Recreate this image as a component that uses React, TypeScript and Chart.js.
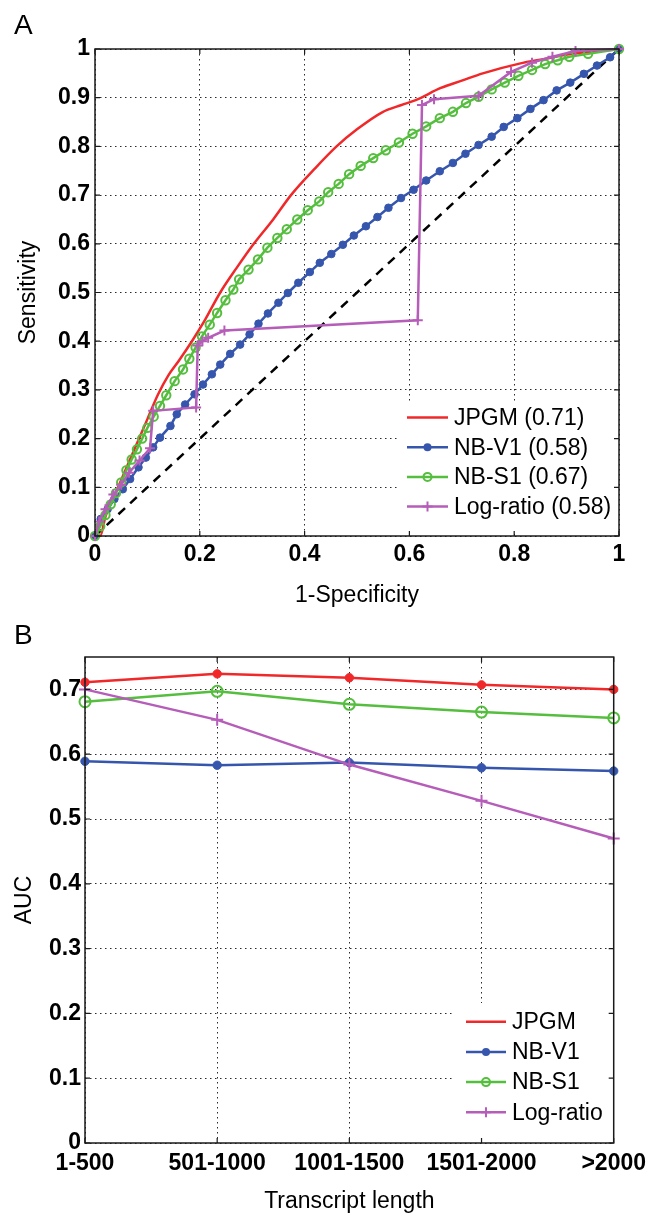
import React, { useEffect, useRef } from 'react';
import { Chart, registerables } from 'chart.js';

Chart.register(...registerables);

const FONT = "'Liberation Sans', Arial, Helvetica, sans-serif";
const RED = '#f0282a';
const BLUE = '#3656ad';
const GREEN = '#55be3e';
const PURPLE = '#b55db8';

// ---------- Panel A: ROC curves ----------
const rocXTicks = [0, 0.2, 0.4, 0.6, 0.8, 1];
const rocXTickLabels = ['0', '0.2', '0.4', '0.6', '0.8', '1'];
const rocYTicks = [0, 0.1, 0.2, 0.3, 0.4, 0.5, 0.6, 0.7, 0.8, 0.9, 1];
const rocYTickLabels = ['0', '0.1', '0.2', '0.3', '0.4', '0.5', '0.6', '0.7', '0.8', '0.9', '1'];

const jpgmRocX = [0, 0.01, 0.02, 0.04, 0.06, 0.08, 0.1, 0.12, 0.14, 0.16, 0.185, 0.208, 0.239, 0.27, 0.303, 0.34, 0.374, 0.42, 0.461, 0.5, 0.548, 0.585, 0.612, 0.66, 0.7, 0.74, 0.81, 0.86, 0.91, 1];
const jpgmRocY = [0, 0, 0.04, 0.09, 0.14, 0.19, 0.24, 0.29, 0.33, 0.36, 0.4, 0.44, 0.5, 0.55, 0.6, 0.65, 0.7, 0.755, 0.8, 0.835, 0.87, 0.885, 0.895, 0.92, 0.935, 0.95, 0.97, 0.98, 0.99, 1];

const nbv1RocX = [0, 0.011, 0.024, 0.037, 0.053, 0.067, 0.083, 0.097, 0.111, 0.124, 0.144, 0.156, 0.172, 0.19, 0.206, 0.223, 0.239, 0.258, 0.277, 0.295, 0.312, 0.33, 0.35, 0.368, 0.388, 0.41, 0.429, 0.451, 0.473, 0.494, 0.517, 0.539, 0.56, 0.584, 0.608, 0.632, 0.658, 0.683, 0.707, 0.732, 0.757, 0.78, 0.806, 0.831, 0.856, 0.881, 0.907, 0.933, 0.958, 0.983, 1];
const nbv1RocY = [0, 0.035, 0.055, 0.076, 0.096, 0.117, 0.141, 0.161, 0.182, 0.202, 0.226, 0.25, 0.27, 0.291, 0.311, 0.332, 0.352, 0.374, 0.393, 0.414, 0.436, 0.457, 0.479, 0.499, 0.52, 0.542, 0.561, 0.579, 0.598, 0.617, 0.636, 0.655, 0.674, 0.694, 0.711, 0.73, 0.749, 0.766, 0.785, 0.803, 0.82, 0.84, 0.858, 0.877, 0.895, 0.915, 0.931, 0.949, 0.966, 0.983, 1];

const nbs1RocX = [0, 0.01, 0.02, 0.03, 0.04, 0.05, 0.06, 0.07, 0.08, 0.09, 0.1, 0.112, 0.124, 0.136, 0.152, 0.168, 0.18, 0.192, 0.204, 0.219, 0.233, 0.249, 0.264, 0.275, 0.293, 0.311, 0.329, 0.348, 0.366, 0.386, 0.406, 0.428, 0.445, 0.465, 0.485, 0.507, 0.531, 0.555, 0.58, 0.606, 0.632, 0.658, 0.683, 0.708, 0.732, 0.757, 0.782, 0.808, 0.834, 0.859, 0.883, 0.905, 0.941, 1];
const nbs1RocY = [0, 0.02, 0.043, 0.065, 0.088, 0.11, 0.135, 0.157, 0.178, 0.2, 0.222, 0.245, 0.267, 0.289, 0.318, 0.342, 0.364, 0.387, 0.41, 0.434, 0.458, 0.484, 0.506, 0.527, 0.547, 0.568, 0.592, 0.612, 0.63, 0.65, 0.669, 0.687, 0.706, 0.723, 0.743, 0.76, 0.776, 0.792, 0.808, 0.826, 0.841, 0.858, 0.871, 0.889, 0.902, 0.917, 0.931, 0.945, 0.957, 0.969, 0.977, 0.984, 0.99, 1];

const logRocX = [0, 0.008, 0.02, 0.035, 0.05, 0.065, 0.085, 0.105, 0.111, 0.193, 0.196, 0.205, 0.216, 0.247, 0.616, 0.624, 0.647, 0.732, 0.794, 0.834, 0.873, 0.917, 1];
const logRocY = [0, 0.03, 0.055, 0.085, 0.105, 0.13, 0.155, 0.18, 0.257, 0.264, 0.391, 0.4, 0.407, 0.422, 0.443, 0.885, 0.897, 0.904, 0.953, 0.972, 0.984, 0.996, 1];

const chanceX = [0, 1];
const chanceY = [0, 1];

const rocLegendLabels = ['JPGM (0.71)', 'NB-V1 (0.58)', 'NB-S1 (0.67)', 'Log-ratio (0.58)'];

// ---------- Panel B: AUC vs transcript length ----------
const lengthCategories = ['1-500', '501-1000', '1001-1500', '1501-2000', '>2000'];
const aucJpgm = [0.711, 0.724, 0.718, 0.707, 0.7];
const aucNbv1 = [0.589, 0.583, 0.587, 0.579, 0.574];
const aucNbs1 = [0.681, 0.697, 0.677, 0.665, 0.656];
const aucLogRatio = [0.7, 0.653, 0.584, 0.528, 0.47];
const aucYTicks = [0, 0.1, 0.2, 0.3, 0.4, 0.5, 0.6, 0.7];
const aucYTickLabels = ['0', '0.1', '0.2', '0.3', '0.4', '0.5', '0.6', '0.7'];
const aucLegendLabels = ['JPGM', 'NB-V1', 'NB-S1', 'Log-ratio'];

const legendColors = [RED, BLUE, GREEN, PURPLE];
const legendMarkers = ['none', 'dot', 'ring', 'plus'];

const pts = (xs: number[], ys: number[]) => xs.map((x, i) => ({ x, y: ys[i] }));

function drawMarker(ctx: CanvasRenderingContext2D, kind: string, x: number, y: number, color: string) {
  ctx.save();
  ctx.strokeStyle = color;
  ctx.fillStyle = color;
  ctx.setLineDash([]);
  if (kind === 'dot') {
    ctx.beginPath();
    ctx.arc(x, y, 4, 0, Math.PI * 2);
    ctx.fill();
  } else if (kind === 'ring') {
    ctx.lineWidth = 2;
    ctx.beginPath();
    ctx.arc(x, y, 4, 0, Math.PI * 2);
    ctx.stroke();
  } else if (kind === 'plus') {
    ctx.lineWidth = 2;
    ctx.beginPath();
    ctx.moveTo(x - 5, y);
    ctx.lineTo(x + 5, y);
    ctx.moveTo(x, y - 5);
    ctx.lineTo(x, y + 5);
    ctx.stroke();
  }
  ctx.restore();
}

type LegendCfg = {
  box: { x: number; y: number; w: number; h: number };
  lineX1: number;
  lineX2: number;
  textX: number;
  firstRowY: number;
  rowGap: number;
  labels: string[];
};

function makeOverlayPlugin(cfg: LegendCfg) {
  return {
    id: 'overlay',
    afterDatasetsDraw(chart: any) {
      const ctx: CanvasRenderingContext2D = chart.ctx;
      const { left, right, top, bottom } = chart.chartArea;
      ctx.save();
      // legend inside the axes
      ctx.fillStyle = '#ffffff';
      ctx.fillRect(cfg.box.x, cfg.box.y, cfg.box.w, cfg.box.h);
      ctx.font = `23px ${FONT}`;
      ctx.textAlign = 'left';
      ctx.textBaseline = 'middle';
      cfg.labels.forEach((label, i) => {
        const y = cfg.firstRowY + i * cfg.rowGap;
        ctx.strokeStyle = legendColors[i];
        ctx.lineWidth = 2.5;
        ctx.setLineDash([]);
        ctx.beginPath();
        ctx.moveTo(cfg.lineX1, y);
        ctx.lineTo(cfg.lineX2, y);
        ctx.stroke();
        drawMarker(ctx, legendMarkers[i], (cfg.lineX1 + cfg.lineX2) / 2, y, legendColors[i]);
        ctx.fillStyle = '#000';
        ctx.fillText(label, cfg.textX, y + 1);
      });
      // axes box with inward ticks
      ctx.strokeStyle = '#1a1a1a';
      ctx.lineWidth = 1.5;
      ctx.setLineDash([]);
      ctx.strokeRect(left, top, right - left, bottom - top);
      ctx.lineWidth = 1.2;
      ctx.beginPath();
      const xs = chart.scales.x;
      const ys = chart.scales.y;
      xs.ticks.forEach((_t: any, i: number) => {
        const px = xs.getPixelForTick(i);
        ctx.moveTo(px, bottom);
        ctx.lineTo(px, bottom - 5);
        ctx.moveTo(px, top);
        ctx.lineTo(px, top + 5);
      });
      ys.ticks.forEach((_t: any, i: number) => {
        const py = ys.getPixelForTick(i);
        ctx.moveTo(left, py);
        ctx.lineTo(left + 5, py);
        ctx.moveTo(right, py);
        ctx.lineTo(right - 5, py);
      });
      ctx.stroke();
      ctx.restore();
    },
  };
}

const gridStyle = { color: '#2a2a2a', lineWidth: 1, drawTicks: false };
const borderStyle = { display: false, dash: [1.5, 3.5] };
const tickFont = { family: FONT, size: 23, weight: 'bold' as const };
const titleFont = { family: FONT, size: 23 };

export default function App() {
  const refA = useRef<HTMLCanvasElement>(null);
  const refB = useRef<HTMLCanvasElement>(null);

  useEffect(() => {
    const chartA = new Chart(refA.current as HTMLCanvasElement, {
      type: 'scatter',
      data: {
        datasets: [
          {
            label: rocLegendLabels[3], data: pts(logRocX, logRocY), showLine: true,
            borderColor: PURPLE, backgroundColor: PURPLE, borderWidth: 2.5,
            pointStyle: 'cross', pointRadius: 5, pointBorderWidth: 2, pointBorderColor: PURPLE,
            order: 0, clip: false,
          },
          {
            label: rocLegendLabels[2], data: pts(nbs1RocX, nbs1RocY), showLine: true,
            borderColor: GREEN, backgroundColor: 'rgba(0,0,0,0)', borderWidth: 2.5,
            pointStyle: 'circle', pointRadius: 4.2, pointBorderWidth: 2, pointBorderColor: GREEN,
            pointBackgroundColor: 'rgba(0,0,0,0)', order: 1, clip: false,
          },
          {
            label: rocLegendLabels[1], data: pts(nbv1RocX, nbv1RocY), showLine: true,
            borderColor: BLUE, backgroundColor: BLUE, borderWidth: 2.5,
            pointStyle: 'circle', pointRadius: 3.8, pointBorderWidth: 1, pointBorderColor: BLUE,
            pointBackgroundColor: BLUE, order: 2, clip: false,
          },
          {
            label: rocLegendLabels[0], data: pts(jpgmRocX, jpgmRocY), showLine: true,
            borderColor: RED, backgroundColor: RED, borderWidth: 2.5, pointRadius: 0,
            tension: 0.3, cubicInterpolationMode: 'monotone', order: 3, clip: false,
          },
          {
            label: 'chance', data: pts(chanceX, chanceY), showLine: true,
            borderColor: '#000', borderWidth: 2.5, borderDash: [9, 7], pointRadius: 0, order: 4,
          },
        ] as any,
      },
      options: {
        responsive: false,
        animation: false,
        devicePixelRatio: 1,
        layout: { padding: { top: 49, right: 34, bottom: 0, left: 0 } },
        plugins: { legend: { display: false }, tooltip: { enabled: false } },
        scales: {
          x: {
            type: 'linear', min: 0, max: 1,
            afterBuildTicks: (s: any) => { s.ticks = rocXTicks.map((v) => ({ value: v })); },
            afterFit: (s: any) => { s.height = 79; },
            ticks: { callback: (_v: any, i: number) => rocXTickLabels[i], font: tickFont, color: '#000', padding: 5, maxRotation: 0, autoSkip: false },
            grid: gridStyle, border: borderStyle,
            title: { display: true, text: '1-Specificity', font: titleFont, color: '#000', padding: { top: 0, bottom: 6 } },
          },
          y: {
            type: 'linear', min: 0, max: 1,
            afterBuildTicks: (s: any) => { s.ticks = rocYTicks.map((v) => ({ value: v })); },
            afterFit: (s: any) => { s.width = 95; },
            ticks: { callback: (_v: any, i: number) => rocYTickLabels[i], font: tickFont, color: '#000', padding: 5, autoSkip: false },
            grid: gridStyle, border: borderStyle,
            title: { display: true, text: 'Sensitivity', font: titleFont, color: '#000', padding: { top: 15, bottom: 0 } },
          },
        },
      } as any,
      plugins: [makeOverlayPlugin({
        box: { x: 400, y: 402, w: 213, h: 132 },
        lineX1: 407, lineX2: 448, textX: 454, firstRowY: 417.5, rowGap: 29.7,
        labels: rocLegendLabels,
      })],
    });

    const chartB = new Chart(refB.current as HTMLCanvasElement, {
      type: 'line',
      data: {
        labels: lengthCategories,
        datasets: [
          {
            label: aucLegendLabels[3], data: aucLogRatio, borderColor: PURPLE, backgroundColor: PURPLE,
            borderWidth: 2.5, pointStyle: 'cross', pointRadius: 6, pointBorderWidth: 2, pointBorderColor: PURPLE,
            order: 0, clip: false,
          },
          {
            label: aucLegendLabels[2], data: aucNbs1, borderColor: GREEN, backgroundColor: 'rgba(0,0,0,0)',
            borderWidth: 2.5, pointStyle: 'circle', pointRadius: 5.5, pointBorderWidth: 2, pointBorderColor: GREEN,
            pointBackgroundColor: 'rgba(0,0,0,0)', order: 1, clip: false,
          },
          {
            label: aucLegendLabels[1], data: aucNbv1, borderColor: BLUE, backgroundColor: BLUE,
            borderWidth: 2.5, pointStyle: 'circle', pointRadius: 4.2, pointBorderWidth: 1, pointBorderColor: BLUE,
            pointBackgroundColor: BLUE, order: 2, clip: false,
          },
          {
            label: aucLegendLabels[0], data: aucJpgm, borderColor: RED, backgroundColor: RED,
            borderWidth: 2.5, pointStyle: 'circle', pointRadius: 4.2, pointBorderWidth: 1, pointBorderColor: RED,
            pointBackgroundColor: RED, order: 3, clip: false,
          },
        ] as any,
      },
      options: {
        responsive: false,
        animation: false,
        devicePixelRatio: 1,
        layout: { padding: { top: 42, right: 33, bottom: 0, left: 0 } },
        plugins: { legend: { display: false }, tooltip: { enabled: false } },
        scales: {
          x: {
            type: 'category', offset: false,
            afterFit: (s: any) => { s.height = 72; },
            ticks: { font: tickFont, color: '#000', padding: 7, maxRotation: 0, autoSkip: false },
            grid: { ...gridStyle, offset: false }, border: borderStyle,
            title: { display: true, text: 'Transcript length', font: titleFont, color: '#000', padding: { top: 0, bottom: 0 } },
          },
          y: {
            type: 'linear', min: 0, max: 0.75,
            afterBuildTicks: (s: any) => { s.ticks = aucYTicks.map((v) => ({ value: v })); },
            afterFit: (s: any) => { s.width = 85; },
            ticks: { callback: (_v: any, i: number) => aucYTickLabels[i], font: tickFont, color: '#000', padding: 4, autoSkip: false },
            grid: gridStyle, border: borderStyle,
            title: { display: true, text: 'AUC', font: titleFont, color: '#000', padding: { top: 11, bottom: 0 } },
          },
        },
      } as any,
      plugins: [makeOverlayPlugin({
        box: { x: 454, y: 388, w: 160, h: 138 },
        lineX1: 466, lineX2: 506, textX: 512, firstRowY: 406.7, rowGap: 30.2,
        labels: aucLegendLabels,
      })],
    });

    return () => {
      chartA.destroy();
      chartB.destroy();
    };
  }, []);

  return (
    <div style={{ position: 'absolute', left: 0, top: 0, width: 653, height: 1213, background: '#fff', overflow: 'hidden' }}>
      <canvas ref={refA} width={653} height={615} style={{ position: 'absolute', left: 0, top: 0 }} />
      <canvas ref={refB} width={653} height={600} style={{ position: 'absolute', left: 0, top: 615 }} />
      <div style={{ position: 'absolute', left: 14, top: 11, font: `28px ${FONT}`, lineHeight: '28px', color: '#000' }}>A</div>
      <div style={{ position: 'absolute', left: 14, top: 621, font: `28px ${FONT}`, lineHeight: '28px', color: '#000' }}>B</div>
    </div>
  );
}
